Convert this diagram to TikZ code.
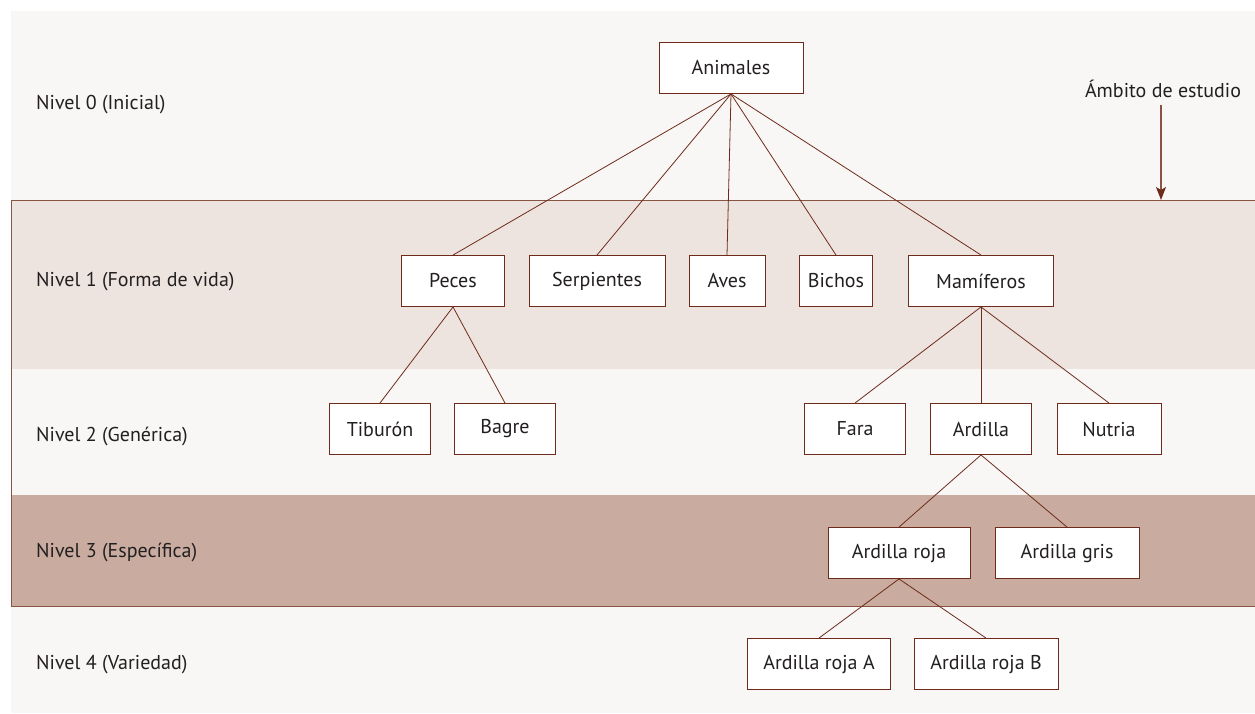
\documentclass[tikz,border=0pt]{standalone}
\usepackage{fontspec}
\setmainfont{PT Sans}
\usetikzlibrary{arrows.meta}
\definecolor{bgcol}{HTML}{F8F7F5}
\definecolor{bandA}{HTML}{EEE4DF}
\definecolor{bandC}{HTML}{C9AC9F}
\definecolor{framecol}{HTML}{8A5444}
\definecolor{linecol}{HTML}{6E2B1B}
\definecolor{txtcol}{HTML}{231F20}
\tikzset{
  box/.style={draw=linecol, line width=0.9pt, fill=white, minimum height=51pt, inner sep=0pt, text=txtcol, font=\fontsize{20}{24}\selectfont},
  lvl/.style={anchor=west, text=txtcol, inner sep=0pt, font=\fontsize{20}{24}\selectfont},
  conn/.style={draw=linecol, line width=0.8pt},
}
\begin{document}
\begin{tikzpicture}[x=1pt,y=-1pt]
\useasboundingbox (0,0) rectangle (1255,713);
% backgrounds
\fill[bgcol] (11,11) rectangle (1255,713);
\fill[bandA] (11,200) rectangle (1255,369);
\fill[bandC] (11,495) rectangle (1255,606);
\draw[framecol, line width=1pt] (1256,200) -- (11,200) -- (11,606) -- (1256,606);
% level labels
\node[lvl] (l0) at (36,105) {Nivel 0 (Inicial)};
\node[lvl] (l1) at (36,282) {Nivel 1 (Forma de vida)};
\node[lvl] (l2) at (36,436) {Nivel 2 (Genérica)};
\node[lvl] (l3) at (36,552) {Nivel 3 (Específica)};
\node[lvl] (l4) at (36,665) {Nivel 4 (Variedad)};
% scope arrow
\node[text=txtcol, inner sep=0pt, font=\fontsize{20}{24}\selectfont] (amb) at (1163,89) {Ámbito de estudio};
\coordinate (arrStart) at (1161,105);
\coordinate (arrEnd) at (1161,200);
\draw[framecol, line width=1.4pt, -{Stealth[length=13pt,width=10pt,inset=3pt,color=linecol]}] (arrStart) -- (arrEnd);
% nodes
\node[box, minimum width=144pt] (animales) at (731,68) {Animales};
\node[box, minimum width=103pt] (peces) at (453,281) {Peces};
\node[box, minimum width=136pt] (serp) at (597,281) {Serpientes};
\node[box, minimum width=76pt] (aves) at (727,281) {Aves};
\node[box, minimum width=73pt] (bichos) at (836,281) {Bichos};
\node[box, minimum width=145pt] (mam) at (981,281) {Mamíferos};
\node[box, minimum width=101pt] (tib) at (380,429) {Tiburón};
\node[box, minimum width=101pt] (bagre) at (505,429) {Bagre};
\node[box, minimum width=101pt] (fara) at (855,429) {Fara};
\node[box, minimum width=101pt] (ard) at (981,429) {Ardilla};
\node[box, minimum width=104pt] (nutria) at (1109,429) {Nutria};
\node[box, minimum width=142pt] (roja) at (899,553) {Ardilla roja};
\node[box, minimum width=144pt] (gris) at (1067,553) {Ardilla gris};
\node[box, minimum width=143pt] (rojaA) at (819,664) {Ardilla roja A};
\node[box, minimum width=144pt] (rojaB) at (986,664) {Ardilla roja B};
% connectors
\foreach \n in {peces,serp,aves,bichos,mam}
  \draw[conn] (animales.south) -- (\n.north);
\foreach \n in {tib,bagre}
  \draw[conn] (peces.south) -- (\n.north);
\foreach \n in {fara,ard,nutria}
  \draw[conn] (mam.south) -- (\n.north);
\foreach \n in {roja,gris}
  \draw[conn] (ard.south) -- (\n.north);
\foreach \n in {rojaA,rojaB}
  \draw[conn] (roja.south) -- (\n.north);
\end{tikzpicture}
\end{document}
